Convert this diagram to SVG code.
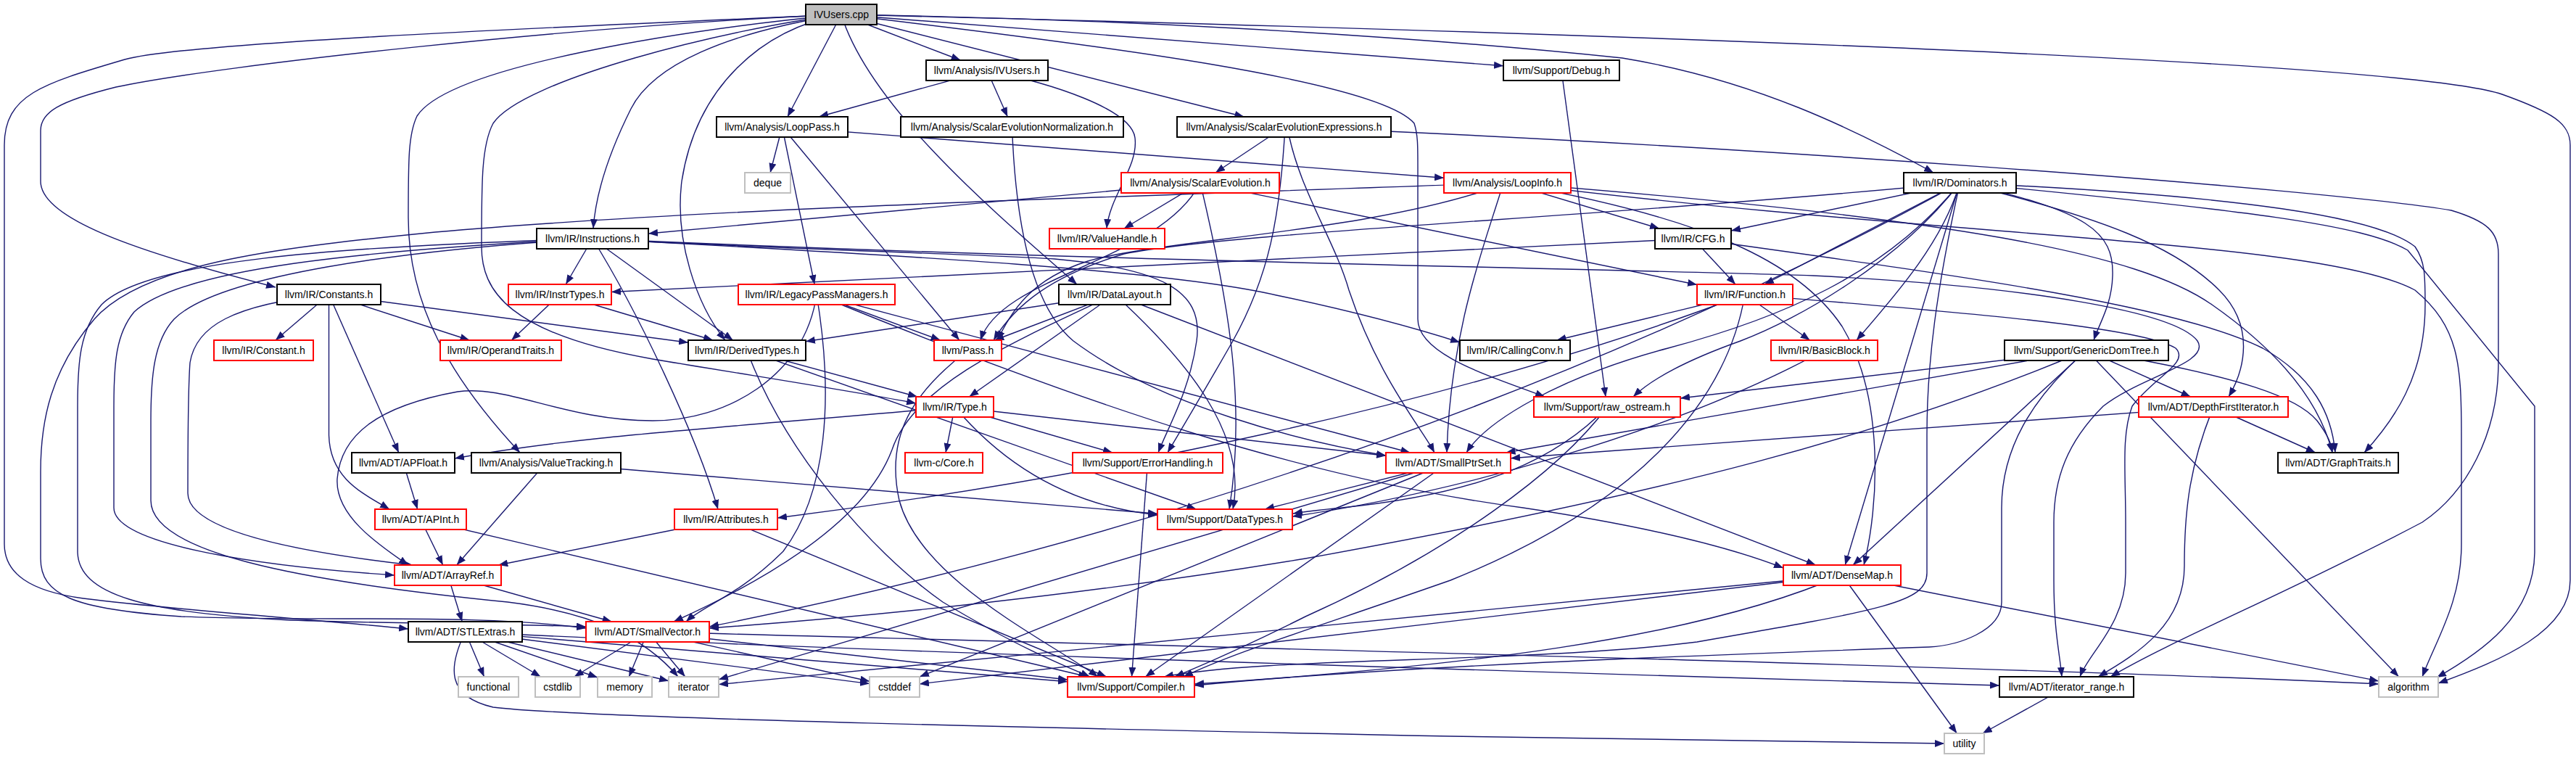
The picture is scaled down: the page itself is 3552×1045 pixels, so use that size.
<svg xmlns="http://www.w3.org/2000/svg" width="3552" height="1045" viewBox="0 0 3552 1045">
<defs>
<marker id="a" markerUnits="userSpaceOnUse" markerWidth="14" markerHeight="10" refX="13" refY="5" orient="auto"><path d="M0,0 L13,5 L0,10 z" fill="#191970"/></marker>
<style>
.e{fill:none;stroke:#191970;stroke-width:1.4;marker-end:url(#a)}
.b{fill:#fff;stroke:#000;stroke-width:2}
.r{fill:#fff;stroke:#ff0000;stroke-width:2}
.s{fill:#fff;stroke:#bfbfbf;stroke-width:2}
.c{fill:#bfbfbf;stroke:#000;stroke-width:2}
text{font-family:'Liberation Sans',Arial,sans-serif;font-size:14px;fill:#000;text-anchor:middle}
</style>
</defs>
<rect width="3552" height="1045" fill="#fff"/>
<g id="edges">
<path class="e" d="M1160,20 L1324.5,83"/>
<path class="e" d="M1160,20 L1085.9,161"/>
<path class="e" d="M1160,20 L1715.4,161"/>
<path class="e" d="M1160,20 L2073,90.8"/>
<path class="e" d="M1160,20 C1500,25 1900,45 2237,80 C2420,110 2560,180 2666,238"/>
<path class="e" d="M1160,20 C1000,45 900,90 870,150 C845,200 822,260 818,315"/>
<path class="e" d="M1160,20 C800,35 300,90 160,120 C80,140 56,155 56,180 L56,250 C56,300 180,345 380,396"/>
<path class="e" d="M1160,20 C1050,40 960,120 940,250 C930,330 960,420 1000,469"/>
<path class="e" d="M1160,20 C1200,150 1380,300 1485,392"/>
<path class="e" d="M1160,20 C950,40 620,90 575,160 C563,185 563,220 563,300 C563,420 620,520 717,624"/>
<path class="e" d="M1160,20 C1500,60 1900,110 1950,170 C1955,185 1955,200 1955,230 L1955,440 C1955,490 2060,520 2130,547"/>
<path class="e" d="M1160,20 C700,40 250,60 172,82 C60,115 6,130 6,200 L6,750 C6,790 40,815 115,825 C250,842 450,855 563,867"/>
<path class="e" d="M1160,20 C2000,40 3300,80 3450,130 C3520,155 3544,170 3544,200 L3544,800 C3544,870 3450,910 3362,942"/>
<path class="e" d="M1160,20 C1000,40 720,110 680,170 C664,200 664,250 664,340 C664,400 700,460 900,495 C1050,520 1180,540 1263,556"/>
<path class="e" d="M1361,97 L1129.2,161"/>
<path class="e" d="M1361,97 L1389.3,161"/>
<path class="e" d="M1361,97 C1450,115 1560,150 1565,190 C1570,230 1530,270 1526,315"/>
<path class="e" d="M1078.5,175 L1062.1,238"/>
<path class="e" d="M1078.5,175 L1991,245.3"/>
<path class="e" d="M1078.5,175 L1123.1,392"/>
<path class="e" d="M1078.5,175 L1322.9,469"/>
<path class="e" d="M1395.5,175 C1400,300 1420,420 1480,470 C1600,560 1800,610 1911,628"/>
<path class="e" d="M1770.5,175 L1676,238"/>
<path class="e" d="M1775,175 C1790,260 1840,330 1860,400 C1900,520 1960,590 1978,624"/>
<path class="e" d="M1772,175 C1765,300 1750,380 1700,470 C1660,540 1630,590 1610,624"/>
<path class="e" d="M1770.5,175 C2400,200 3200,260 3380,290 C3430,305 3445,320 3445,350 L3445,500 C3445,600 3400,680 3340,720 C3150,820 3000,880 2910,933"/>
<path class="e" d="M2153,97 L2214,547"/>
<path class="e" d="M1655,252 L894,322"/>
<path class="e" d="M1655,252 L1549.9,315"/>
<path class="e" d="M1655,252 L2340,392.5"/>
<path class="e" d="M1655,252 C1600,360 1380,380 1352,469"/>
<path class="e" d="M1655,252 C1690,400 1720,550 1695,702"/>
<path class="e" d="M2078.5,252 L2288,315"/>
<path class="e" d="M2078.5,252 C1900,320 1600,330 1500,360 C1420,385 1395,430 1375,469"/>
<path class="e" d="M2073,252 C2050,330 2000,450 1995,624"/>
<path class="e" d="M2078.5,252 C2350,300 2480,360 2540,450 C2600,550 2590,700 2570,779"/>
<path class="e" d="M2078.5,252 C2700,300 2950,350 3050,420 C3150,490 3200,560 3216,624"/>
<path class="e" d="M2078.5,252 C2700,330 3200,330 3330,400 C3390,450 3394,500 3394,600 L3394,750 C3394,830 3360,880 3340,933"/>
<path class="e" d="M2078.5,252 C1600,270 1000,285 600,320 C400,340 200,360 130,440 C70,510 56,580 56,650 L56,770 C56,820 100,840 250,850 C450,858 650,845 808,866"/>
<path class="e" d="M2702.5,252 L2387,318"/>
<path class="e" d="M2702.5,252 L2433,392"/>
<path class="e" d="M2702.5,252 C2680,330 2620,400 2560,469"/>
<path class="e" d="M2702.5,252 C2880,290 2915,320 2913,380 C2912,420 2895,445 2887,469"/>
<path class="e" d="M2702.5,252 C2900,300 3000,340 3060,400 C3110,450 3095,510 3073,547"/>
<path class="e" d="M2702.5,252 C3100,270 3280,300 3330,340 C3344,360 3344,380 3344,420 C3344,520 3300,580 3260,624"/>
<path class="e" d="M2702.5,252 C3100,290 3260,310 3320,345 L3495,560 L3495,760 C3495,850 3420,900 3360,934"/>
<path class="e" d="M2702.5,252 C2600,380 2450,440 2300,480 C2150,520 2050,580 2022,624"/>
<path class="e" d="M2702.5,252 L2544.2,779"/>
<path class="e" d="M2702.5,252 C2620,360 2480,440 2400,470 C2330,495 2280,520 2252,547"/>
<path class="e" d="M2702.5,252 C2400,420 1800,700 978,864"/>
<path class="e" d="M2702.5,252 C2670,400 2657,500 2657,600 L2657,790 C2657,830 2600,840 2340,885 C2100,915 1750,905 1605,933"/>
<path class="e" d="M2702.5,252 C2200,300 1700,320 1550,350 C1450,380 1400,420 1370,469"/>
<path class="e" d="M817,329 L780.2,392"/>
<path class="e" d="M817,329 L1010.6,469"/>
<path class="e" d="M817,329 C880,430 960,600 990,702"/>
<path class="e" d="M817,329 C1200,350 1600,370 1760,407 C1880,432 1960,455 2013,472"/>
<path class="e" d="M817,329 C1100,345 1350,350 1454,357 C1600,370 1660,400 1650,470 C1640,540 1610,590 1597,624"/>
<path class="e" d="M817,329 C1500,360 2200,370 2500,380 C2800,395 3000,430 3030,470 C3050,500 2950,520 2900,560 C2850,610 2832,660 2832,720 L2832,800 C2832,870 2840,900 2843,933"/>
<path class="e" d="M817,329 C500,345 250,370 185,430 C160,460 157,500 157,560 L157,700 C157,750 350,780 544,793"/>
<path class="e" d="M817,329 C450,340 200,360 140,420 C110,455 107,500 107,560 L107,760 C107,820 200,845 400,855 C550,860 700,860 808,864"/>
<path class="e" d="M817,329 C550,345 300,380 240,440 C212,470 208,520 208,580 L208,690 C208,760 400,800 700,830 C820,845 890,880 935,933"/>
<path class="e" d="M2334.5,329 L2393,392"/>
<path class="e" d="M2334.5,329 C2700,380 3000,420 3120,480 C3190,520 3215,570 3220,624"/>
<path class="e" d="M2334.5,329 L843,402.5"/>
<path class="e" d="M453.5,406 L379.9,469"/>
<path class="e" d="M453.5,406 L647.4,469"/>
<path class="e" d="M453.5,406 L949,472.2"/>
<path class="e" d="M453.5,406 L549.8,624"/>
<path class="e" d="M453.5,406 L453.5,600 C455,660 500,680 537,702"/>
<path class="e" d="M453.5,406 C320,420 270,450 262,500 C259,540 259,600 259,680 C259,730 400,760 569,779"/>
<path class="e" d="M772,406 L705.3,469"/>
<path class="e" d="M772,406 L983,469"/>
<path class="e" d="M1126,406 L1296.6,469"/>
<path class="e" d="M1126,406 C1500,560 1800,660 2100,700 C2300,730 2400,760 2459,783"/>
<path class="e" d="M1126,406 C1150,550 1140,680 1080,760 C1020,820 970,835 946,857"/>
<path class="e" d="M1126,406 C1110,520 1000,580 900,580 C780,580 700,530 631,540 C520,560 470,600 465,660 C462,710 520,750 563,779"/>
<path class="e" d="M1126,406 L1944.4,624"/>
<path class="e" d="M1537,406 L1111,470.7"/>
<path class="e" d="M1537,406 L1371.3,469"/>
<path class="e" d="M1537,406 L1336.4,547"/>
<path class="e" d="M1537,406 C1400,470 1260,530 1230,620 C1200,700 1100,780 929,857"/>
<path class="e" d="M1537,406 C1640,500 1720,600 1700,702"/>
<path class="e" d="M1537,406 L2503.7,779"/>
<path class="e" d="M2406,406 L2146.6,469"/>
<path class="e" d="M2406,406 L2495.6,469"/>
<path class="e" d="M2406,406 C2000,560 1500,660 1072,714"/>
<path class="e" d="M2406,406 C2380,560 2250,700 2000,800 C1800,870 1700,900 1632,933"/>
<path class="e" d="M2406,406 C2700,430 2950,450 3000,480 C3020,500 2970,520 2940,560 C2925,600 2931,650 2931,720 L2931,790 C2931,860 2880,900 2868,933"/>
<path class="e" d="M2877,483 L2317,549"/>
<path class="e" d="M2877,483 L2076.5,624"/>
<path class="e" d="M2877,483 C2600,600 2300,680 1800,770 C1500,820 1200,850 978,866"/>
<path class="e" d="M2877,483 L2555,779"/>
<path class="e" d="M2877,483 L3020.6,547"/>
<path class="e" d="M2877,483 C3100,520 3170,550 3195,580 C3210,600 3215,612 3216,624"/>
<path class="e" d="M2877,483 C2800,550 2760,620 2760,700 L2760,830 C2760,870 2700,890 2660,892 C2300,905 1900,920 1647,945"/>
<path class="e" d="M2877,483 L3307.6,933"/>
<path class="e" d="M1030,483 L1265,547"/>
<path class="e" d="M1030,483 L1649.4,702"/>
<path class="e" d="M1030,483 C1080,620 1200,760 1300,830 C1400,890 1460,915 1503,933"/>
<path class="e" d="M1334.5,483 C1260,540 1220,600 1240,690 C1270,800 1440,880 1514,933"/>
<path class="e" d="M2515.5,483 C2300,600 2000,680 1782,712"/>
<path class="e" d="M1316.5,561 L1304,624"/>
<path class="e" d="M1316.5,561 L1534,624"/>
<path class="e" d="M1316.5,561 C1400,660 1500,700 1596,710"/>
<path class="e" d="M1316.5,561 L1911,628.3"/>
<path class="e" d="M1316.5,561 C1000,590 800,600 627,632"/>
<path class="e" d="M2216,561 C2150,650 2000,760 1800,850 C1700,900 1650,920 1620,933"/>
<path class="e" d="M2216,561 C2150,630 2050,680 1850,700 C1820,703 1800,705 1783,708"/>
<path class="e" d="M3052,561 L3192.7,624"/>
<path class="e" d="M3052,561 L2083,631.7"/>
<path class="e" d="M3052,561 C3020,640 3012,700 3012,780 C3012,860 2950,900 2893,933"/>
<path class="e" d="M556,638 L575.7,702"/>
<path class="e" d="M753,638 L629.7,779"/>
<path class="e" d="M753,638 L1596,708.2"/>
<path class="e" d="M1582.5,638 L1560.5,933"/>
<path class="e" d="M1997,638 L1744,702"/>
<path class="e" d="M1997,638 L1579.3,933"/>
<path class="e" d="M1997,638 L1268,933"/>
<path class="e" d="M1997,638 L991,936.8"/>
<path class="e" d="M580,716 L610.7,779"/>
<path class="e" d="M580,716 L1500,933"/>
<path class="e" d="M1001,716 L687.2,779"/>
<path class="e" d="M1001,716 L1525.7,933"/>
<path class="e" d="M617.5,793 L637.2,857"/>
<path class="e" d="M617.5,793 L843.6,857"/>
<path class="e" d="M2540,793 L991,943.6"/>
<path class="e" d="M2540,793 L1268,942.9"/>
<path class="e" d="M2540,793 C2334,883 2000,920 1647,943"/>
<path class="e" d="M2540,793 L2698.3,1011"/>
<path class="e" d="M2540,793 L3280,938.9"/>
<path class="e" d="M641.5,871 L667.6,933"/>
<path class="e" d="M641.5,871 L745.5,933"/>
<path class="e" d="M641.5,871 L824,934"/>
<path class="e" d="M641.5,871 L922,938.7"/>
<path class="e" d="M641.5,871 L1199,942.6"/>
<path class="e" d="M641.5,871 L1472,939.8"/>
<path class="e" d="M641.5,871 C618,920 615,960 680,975 C800,990 1500,1005 2000,1015 C2400,1022 2600,1025 2681,1025"/>
<path class="e" d="M641.5,871 C1200,900 2400,935 2757,945"/>
<path class="e" d="M893,871 L791.8,933"/>
<path class="e" d="M893,871 L867.3,933"/>
<path class="e" d="M893,871 L944.8,933"/>
<path class="e" d="M893,871 L1199,939.3"/>
<path class="e" d="M893,871 L1472,937"/>
<path class="e" d="M893,871 C1600,890 2800,920 3280,943"/>
<path class="e" d="M2849.5,947 L2733.8,1011"/>
</g>
<g id="n_cpp"><rect class="c" x="1111" y="6" width="98" height="28"/><text x="1160" y="25">IVUsers.cpp</text></g>
<g id="n_ivh"><rect class="b" x="1277" y="83" width="168" height="28"/><text x="1361" y="102">llvm/Analysis/IVUsers.h</text></g>
<g id="n_lph"><rect class="b" x="988" y="161" width="181" height="28"/><text x="1078.5" y="180">llvm/Analysis/LoopPass.h</text></g>
<g id="n_sen"><rect class="b" x="1242" y="161" width="307" height="28"/><text x="1395.5" y="180">llvm/Analysis/ScalarEvolutionNormalization.h</text></g>
<g id="n_see"><rect class="b" x="1623" y="161" width="295" height="28"/><text x="1770.5" y="180">llvm/Analysis/ScalarEvolutionExpressions.h</text></g>
<g id="n_dbg"><rect class="b" x="2073" y="83" width="160" height="28"/><text x="2153" y="102">llvm/Support/Debug.h</text></g>
<g id="n_deq"><rect class="s" x="1027" y="238" width="63" height="28"/><text x="1058.5" y="257">deque</text></g>
<g id="n_se"><rect class="r" x="1546" y="238" width="218" height="28"/><text x="1655" y="257">llvm/Analysis/ScalarEvolution.h</text></g>
<g id="n_li"><rect class="r" x="1991" y="238" width="175" height="28"/><text x="2078.5" y="257">llvm/Analysis/LoopInfo.h</text></g>
<g id="n_dom"><rect class="b" x="2625" y="238" width="155" height="28"/><text x="2702.5" y="257">llvm/IR/Dominators.h</text></g>
<g id="n_ins"><rect class="b" x="740" y="315" width="154" height="28"/><text x="817" y="334">llvm/IR/Instructions.h</text></g>
<g id="n_vh"><rect class="r" x="1447" y="315" width="159" height="28"/><text x="1526.5" y="334">llvm/IR/ValueHandle.h</text></g>
<g id="n_cfg"><rect class="b" x="2282" y="315" width="105" height="28"/><text x="2334.5" y="334">llvm/IR/CFG.h</text></g>
<g id="n_cst"><rect class="b" x="382" y="392" width="143" height="28"/><text x="453.5" y="411">llvm/IR/Constants.h</text></g>
<g id="n_ity"><rect class="r" x="701" y="392" width="142" height="28"/><text x="772" y="411">llvm/IR/InstrTypes.h</text></g>
<g id="n_lpm"><rect class="r" x="1018" y="392" width="216" height="28"/><text x="1126" y="411">llvm/IR/LegacyPassManagers.h</text></g>
<g id="n_dl"><rect class="b" x="1460" y="392" width="154" height="28"/><text x="1537" y="411">llvm/IR/DataLayout.h</text></g>
<g id="n_fn"><rect class="r" x="2340" y="392" width="132" height="28"/><text x="2406" y="411">llvm/IR/Function.h</text></g>
<g id="n_gdt"><rect class="b" x="2764" y="469" width="226" height="28"/><text x="2877" y="488">llvm/Support/GenericDomTree.h</text></g>
<g id="n_ct"><rect class="r" x="295" y="469" width="137" height="28"/><text x="363.5" y="488">llvm/IR/Constant.h</text></g>
<g id="n_ot"><rect class="r" x="607" y="469" width="167" height="28"/><text x="690.5" y="488">llvm/IR/OperandTraits.h</text></g>
<g id="n_dt"><rect class="b" x="949" y="469" width="162" height="28"/><text x="1030" y="488">llvm/IR/DerivedTypes.h</text></g>
<g id="n_ps"><rect class="r" x="1288" y="469" width="93" height="28"/><text x="1334.5" y="488">llvm/Pass.h</text></g>
<g id="n_cc"><rect class="b" x="2013" y="469" width="152" height="28"/><text x="2089" y="488">llvm/IR/CallingConv.h</text></g>
<g id="n_bb"><rect class="r" x="2442" y="469" width="147" height="28"/><text x="2515.5" y="488">llvm/IR/BasicBlock.h</text></g>
<g id="n_ty"><rect class="r" x="1263" y="547" width="107" height="28"/><text x="1316.5" y="566">llvm/IR/Type.h</text></g>
<g id="n_ro"><rect class="r" x="2115" y="547" width="202" height="28"/><text x="2216" y="566">llvm/Support/raw_ostream.h</text></g>
<g id="n_dfi"><rect class="r" x="2949" y="547" width="206" height="28"/><text x="3052" y="566">llvm/ADT/DepthFirstIterator.h</text></g>
<g id="n_apf"><rect class="b" x="485" y="624" width="142" height="28"/><text x="556" y="643">llvm/ADT/APFloat.h</text></g>
<g id="n_vt"><rect class="b" x="650" y="624" width="206" height="28"/><text x="753" y="643">llvm/Analysis/ValueTracking.h</text></g>
<g id="n_core"><rect class="r" x="1248" y="624" width="107" height="28"/><text x="1301.5" y="643">llvm-c/Core.h</text></g>
<g id="n_eh"><rect class="r" x="1479" y="624" width="207" height="28"/><text x="1582.5" y="643">llvm/Support/ErrorHandling.h</text></g>
<g id="n_sps"><rect class="r" x="1911" y="624" width="172" height="28"/><text x="1997" y="643">llvm/ADT/SmallPtrSet.h</text></g>
<g id="n_gt"><rect class="b" x="3141" y="624" width="166" height="28"/><text x="3224" y="643">llvm/ADT/GraphTraits.h</text></g>
<g id="n_api"><rect class="r" x="517" y="702" width="126" height="28"/><text x="580" y="721">llvm/ADT/APInt.h</text></g>
<g id="n_att"><rect class="r" x="930" y="702" width="142" height="28"/><text x="1001" y="721">llvm/IR/Attributes.h</text></g>
<g id="n_dty"><rect class="r" x="1596" y="702" width="186" height="28"/><text x="1689" y="721">llvm/Support/DataTypes.h</text></g>
<g id="n_ar"><rect class="r" x="544" y="779" width="147" height="28"/><text x="617.5" y="798">llvm/ADT/ArrayRef.h</text></g>
<g id="n_dm"><rect class="r" x="2459" y="779" width="162" height="28"/><text x="2540" y="798">llvm/ADT/DenseMap.h</text></g>
<g id="n_stl"><rect class="b" x="563" y="857" width="157" height="28"/><text x="641.5" y="876">llvm/ADT/STLExtras.h</text></g>
<g id="n_sv"><rect class="r" x="808" y="857" width="170" height="28"/><text x="893" y="876">llvm/ADT/SmallVector.h</text></g>
<g id="n_fun"><rect class="s" x="632" y="933" width="83" height="28"/><text x="673.5" y="952">functional</text></g>
<g id="n_csl"><rect class="s" x="738" y="933" width="62" height="28"/><text x="769" y="952">cstdlib</text></g>
<g id="n_mem"><rect class="s" x="824" y="933" width="75" height="28"/><text x="861.5" y="952">memory</text></g>
<g id="n_itr"><rect class="s" x="922" y="933" width="69" height="28"/><text x="956.5" y="952">iterator</text></g>
<g id="n_csd"><rect class="s" x="1199" y="933" width="69" height="28"/><text x="1233.5" y="952">cstddef</text></g>
<g id="n_cmp"><rect class="r" x="1472" y="933" width="175" height="28"/><text x="1559.5" y="952">llvm/Support/Compiler.h</text></g>
<g id="n_irg"><rect class="b" x="2757" y="933" width="185" height="28"/><text x="2849.5" y="952">llvm/ADT/iterator_range.h</text></g>
<g id="n_alg"><rect class="s" x="3280" y="933" width="82" height="28"/><text x="3321" y="952">algorithm</text></g>
<g id="n_utl"><rect class="s" x="2681" y="1011" width="55" height="28"/><text x="2708.5" y="1030">utility</text></g>
</svg>
